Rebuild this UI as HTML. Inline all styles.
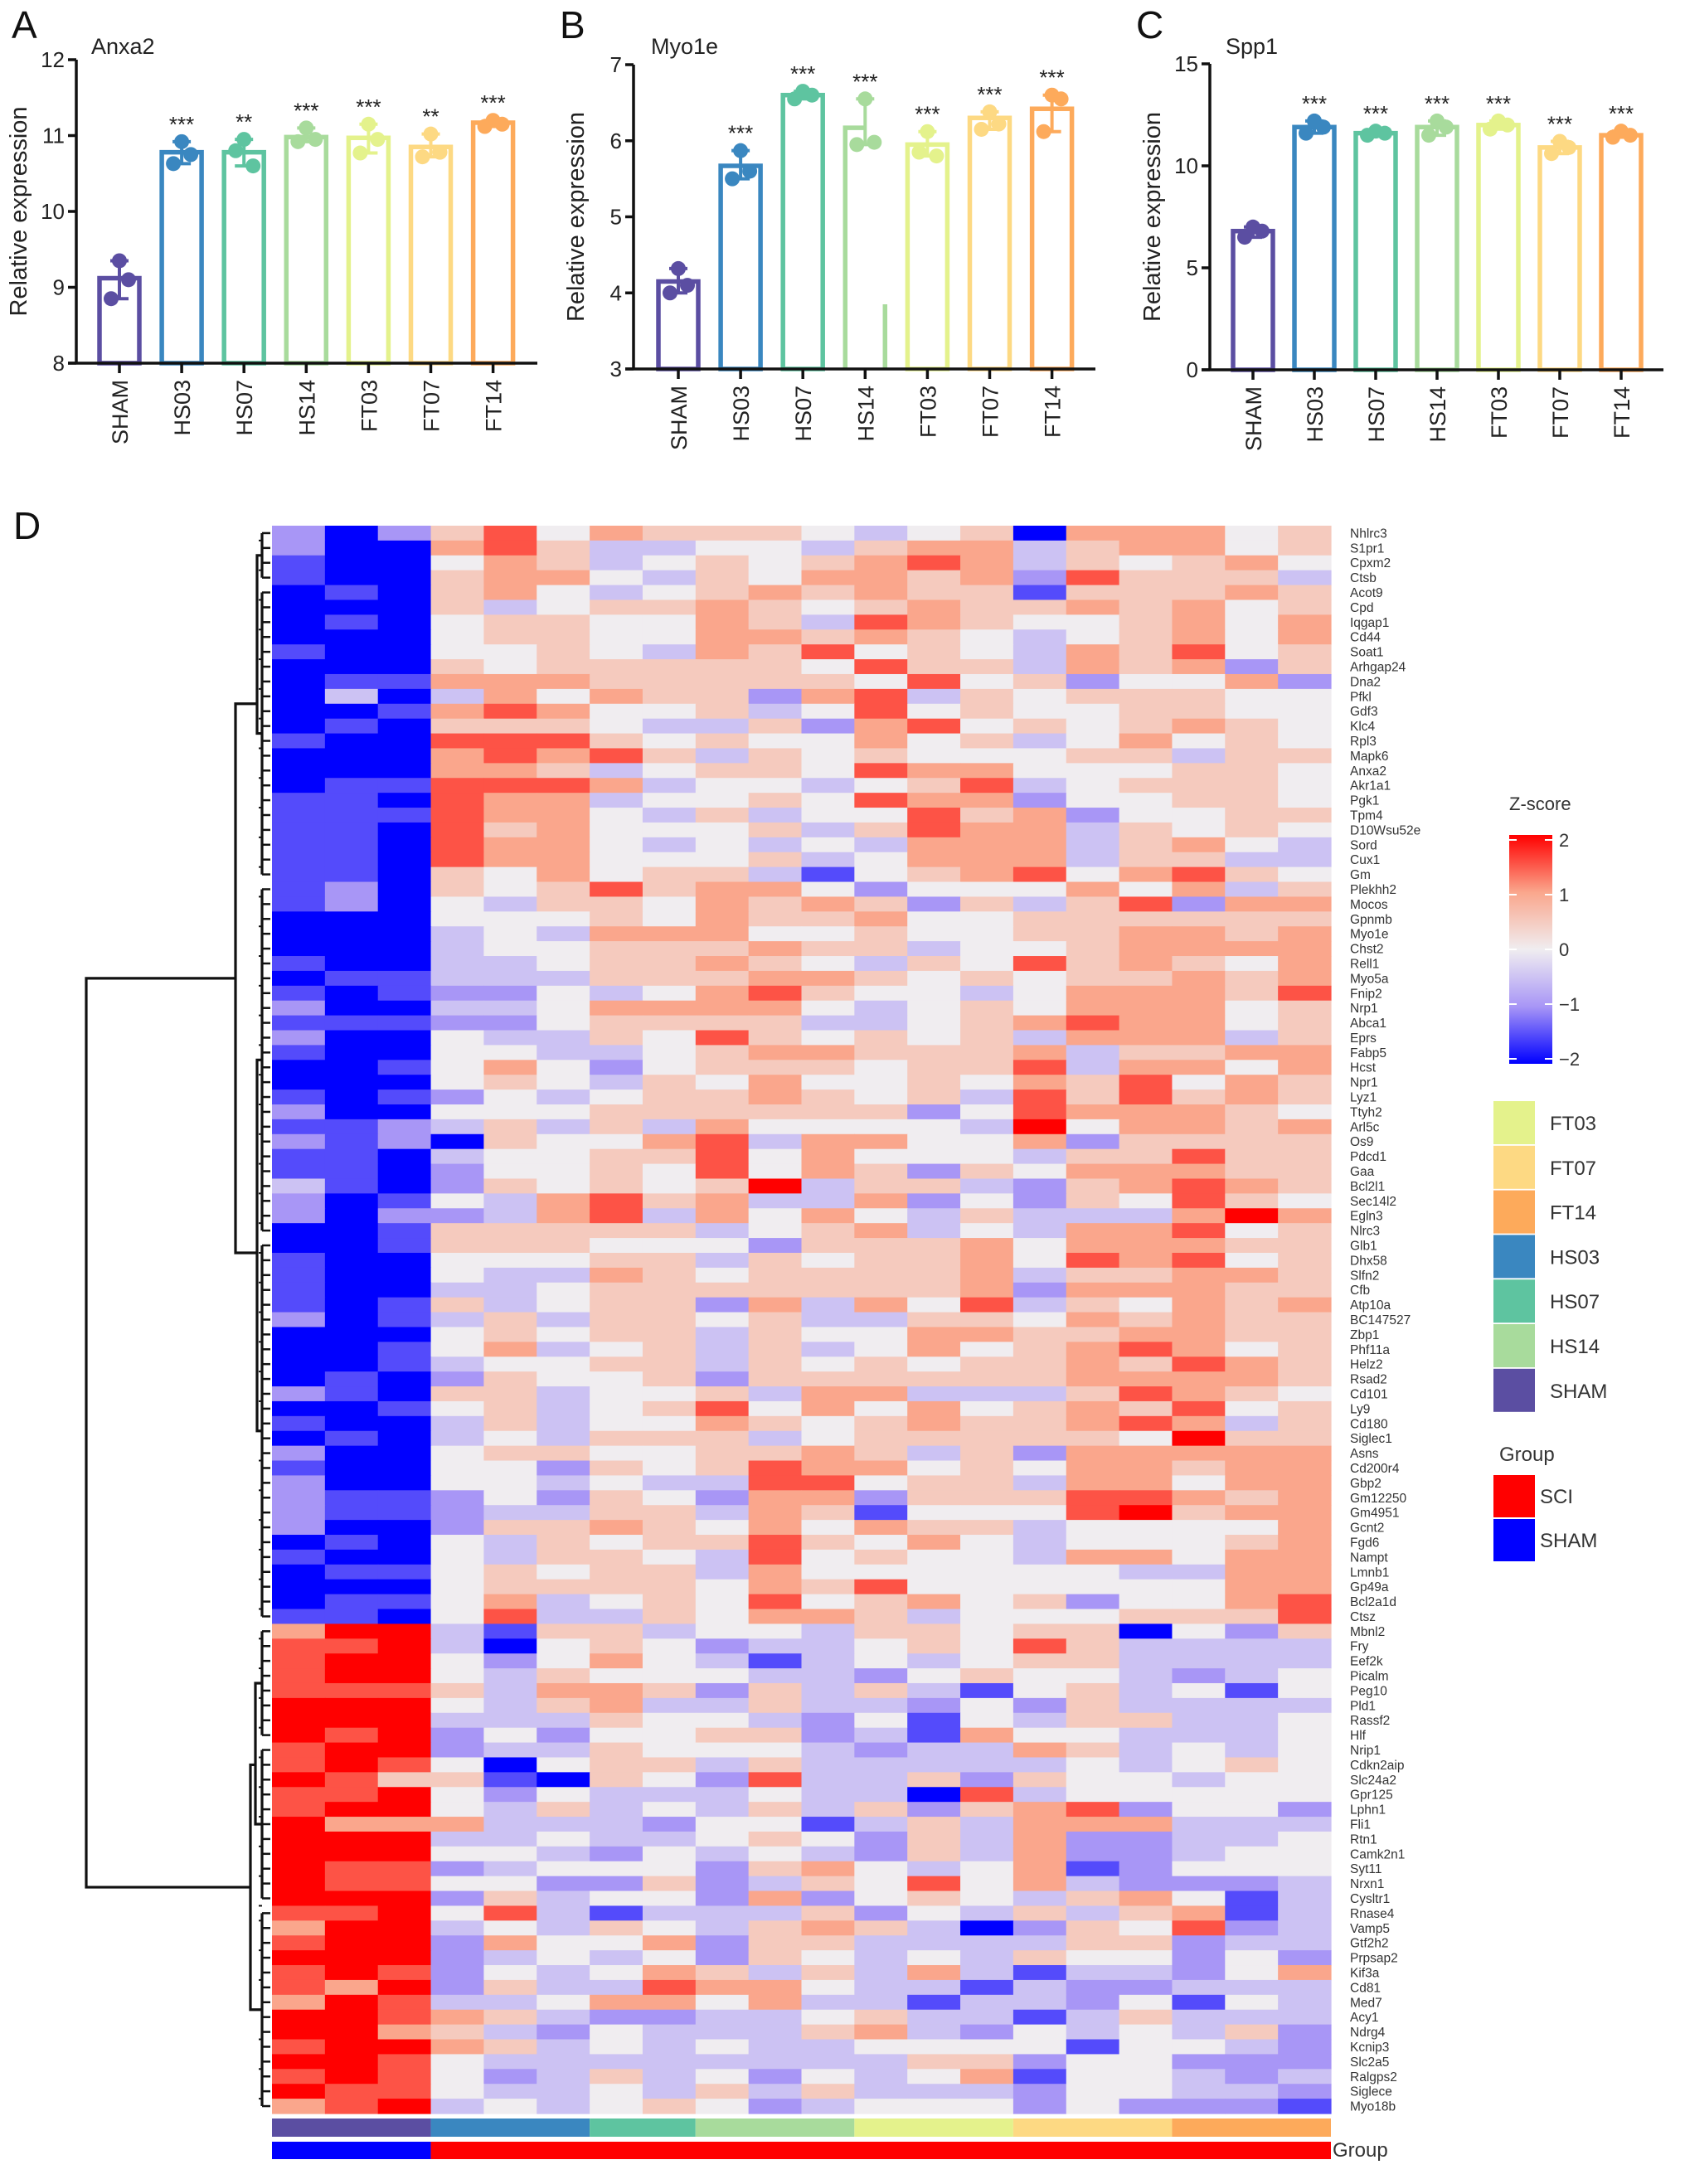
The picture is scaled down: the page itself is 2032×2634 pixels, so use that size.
<!DOCTYPE html>
<html><head><meta charset="utf-8"><style>
html,body{margin:0;padding:0;background:#fff}
svg{display:block;font-family:"Liberation Sans",Arial,sans-serif}
</style></head><body>
<svg id="fig" width="2032" height="2634" viewBox="0 0 2032 2634" xmlns="http://www.w3.org/2000/svg"></svg>
<script>
// ---------- bar chart data ----------
const groups = ["SHAM","HS03","HS07","HS14","FT03","FT07","FT14"];
const groupColors = ["#5b4ea2","#3a87c0","#5ec4a0","#a8db9c","#e4f28c","#fdd983","#fdaa5b"];
const anxa2Means = [9.12,10.78,10.78,10.98,10.97,10.85,11.17];
const anxa2Points = [[9.35,9.1,8.85],[10.92,10.75,10.63],[10.95,10.6,10.8],[11.1,10.95,10.92],[11.15,10.95,10.77],[11.02,10.78,10.72],[11.2,11.15,11.12]];
const anxa2Stars = ["","***","**","***","***","**","***"];
const myo1eMeans = [4.15,5.67,6.6,6.17,5.95,6.3,6.42];
const myo1ePoints = [[4.32,4.1,4.0],[5.87,5.6,5.5],[6.65,6.6,6.55],[6.55,5.98,5.95],[6.12,5.8,5.85],[6.38,6.22,6.15],[6.6,6.55,6.12]];
const myo1eStars = ["","***","***","***","***","***","***"];
const spp1Means = [6.8,11.9,11.6,11.9,12.0,10.9,11.5];
const spp1Points = [[7.0,6.8,6.5],[12.2,11.9,11.6],[11.7,11.6,11.5],[12.2,11.9,11.5],[12.2,12.0,11.8],[11.2,10.9,10.6],[11.7,11.5,11.4]];
const spp1Stars = ["","***","***","***","***","***","***"];

// ---------- heatmap data ----------
const genes = ["Nhlrc3","S1pr1","Cpxm2","Ctsb","Acot9","Cpd","Iqgap1","Cd44","Soat1","Arhgap24","Dna2","Pfkl","Gdf3","Klc4","Rpl3","Mapk6","Anxa2","Akr1a1","Pgk1","Tpm4","D10Wsu52e","Sord","Cux1","Gm","Plekhh2","Mocos","Gpnmb","Myo1e","Chst2","Rell1","Myo5a","Fnip2","Nrp1","Abca1","Eprs","Fabp5","Hcst","Npr1","Lyz1","Ttyh2","Arl5c","Os9","Pdcd1","Gaa","Bcl2l1","Sec14l2","Egln3","Nlrc3","Glb1","Dhx58","Slfn2","Cfb","Atp10a","BC147527","Zbp1","Phf11a","Helz2","Rsad2","Cd101","Ly9","Cd180","Siglec1","Asns","Cd200r4","Gbp2","Gm12250","Gm4951","Gcnt2","Fgd6","Nampt","Lmnb1","Gp49a","Bcl2a1d","Ctsz","Mbnl2","Fry","Eef2k","Picalm","Peg10","Pld1","Rassf2","Hlf","Nrip1","Cdkn2aip","Slc24a2","Gpr125","Lphn1","Fli1","Rtn1","Camk2n1","Syt11","Nrxn1","Cysltr1","Rnase4","Vamp5","Gtf2h2","Prpsap2","Kif3a","Cd81","Med7","Acy1","Ndrg4","Kcnip3","Slc2a5","Ralgps2","Siglece","Myo18b"];
// levels 0..8 -> z = (d-4)/2
const zLevels = [
"20257465554345066645","20067533443566356645","10046534545676354564","10056643546656275553","01056434565655155565",
"00053455654565565645","01045544653765445646","00045544665654345646","10044543657454365745","00054555554755365625",
"01166655555474524462","03036465526735455544","00167644534745445544","01055543352674545654","10077754544645346454",
"00067675354544455355","00066534554766444554","01177763443457345554","11076634454766244554","11176643534475624455",
"11075644453576635454","11076643434366635643","11076644453466635533","11054645531456746754","12054575664244464635",
"12043554656525357266","00044454655644555555","00034366644544556656","00034455565534456666","10033455654354756546",
"01133355566545455656","10122434675443466657","20033466664345466645","11122455553345676645","20043354754545366635",
"10044334566555635566","00146424555455736646","00045435464454657465","10124345565453757565","20044455555524766654",
"11235353644443846656","21205446736644625555","11034455746444355755","11024454746525466655","31025454583553256765",
"20143675633624254754","20223673646435333686","00155555345634366745","00155544425556466655","10044455354556476745",
"10043365455556355665","10033455555556266655","10153455263647354656","20135355453355465655","00045455354466556655",
"00146345353464567645","00134455354545565765","01025445255555566665","21055344536633357654","00145345746464565745",
"10035344654565567635","01034355534555554855","20045544556535266666","10044254576645466566","20044343377455366466",
"21124254266255577656","21123355365144478566","20025565464655344446","01043545575464344456","10043554374544366466",
"01145455364444443366","00045555465744444466","01146345474564524467","11047335466534445557",
"68831553443554550425","77830454233454753333","78842464313434553333","78843544433245443234",
"77753665253531453414","88843563353324253333","88833354432414355334","87824244552316443334",
"78823354443233653434","78740455353333343454","87551054273352544344","77842433343307344444",
"78843534353525672442","86663332441353666333","88833433454253622334","88844324343253622344",
"87723444256434612444","87744225235474632223","88825344262454356413","77847313335243535613",
"68834354356530254723","78826446255333355233","88823434254343544242","78724346535363133246",
"76825337664331322333","68733466463313324143","88765322334533135333","88653243335632434352",
"78865343433444414432","88743333333355244222","78742353424346144323","87743343535333244332",
"67834345423444242221"];

// ---------- helpers ----------
const svg = document.getElementById('fig');
const NS = "http://www.w3.org/2000/svg";
function mk(tag, attrs, parent){
  const e = document.createElementNS(NS, tag);
  for (const k in attrs) e.setAttribute(k, attrs[k]);
  (parent||svg).appendChild(e);
  return e;
}
function txt(s, attrs, parent){ const t = mk('text', attrs, parent); t.textContent = s; return t; }

// ---------- bar chart builder ----------
function barChart(cfg){
  const g = mk('g', {});
  
  
  const y = v => cfg.y0 + (v - cfg.vmin) / (cfg.vmax - cfg.vmin) * (cfg.y1 - cfg.y0);
  const x = i => cfg.xStart + i * cfg.step;
  // panel letter
  const L = txt(cfg.letter, {x: cfg.letterX, y: 46, 'font-size': 46, fill: '#111'}, g);
  
  
  const T = txt(cfg.title, {x: cfg.titleX, y: 65, 'font-size': 27, fill: '#222'}, g);
  
  
  // bars
  cfg.means.forEach((m, i) => {
    const top = y(m), bot = y(cfg.vmin), cx = x(i), hw = 24;
    const col = groupColors[i];
    if (cfg.broken && i === cfg.broken) {
      const p = mk('path', {d: `M${cx-hw},${bot} L${cx-hw},${top} L${cx},${top}`, fill: 'none', stroke: col, 'stroke-width': 5.5}, g);
      
      
      mk('line', {x1: cx+hw, y1: bot, x2: cx+hw, y2: y(3.85), stroke: col, 'stroke-width': 5.5}, g);
    } else {
      const r = mk('rect', {x: cx-hw, y: top, width: 2*hw, height: bot-top, fill: 'none', stroke: col, 'stroke-width': 5.5}, g);
      
      
    }
    const pts = cfg.points[i];
    const mn = Math.min(...pts), mx = Math.max(...pts);
    mk('line', {x1: cx, y1: y(mn), x2: cx, y2: y(mx), stroke: col, 'stroke-width': 4}, g);
    mk('line', {x1: cx-11, y1: y(mn), x2: cx+11, y2: y(mn), stroke: col, 'stroke-width': 4}, g);
    mk('line', {x1: cx-11, y1: y(mx), x2: cx+11, y2: y(mx), stroke: col, 'stroke-width': 4}, g);
    const offs = [0, 11, -10];
    pts.forEach((p, k) => {
      const c = mk('circle', {cx: cx + offs[k], cy: y(p), r: 9, fill: col}, g);
      
      
    });
    if (cfg.stars[i]) {
      const s = txt(cfg.stars[i], {x: cx, y: y(mx) - 12, 'font-size': 26, 'text-anchor': 'middle', fill: '#222'}, g);
      
      
    }
    // x tick + label
    mk('line', {x1: cx, y1: cfg.y0, x2: cx, y2: cfg.y0 + 12, stroke: '#111', 'stroke-width': 3.5}, g);
    const lab = txt(groups[i], {x: 0, y: 0, 'font-size': 27, 'text-anchor': 'end', fill: '#222',
      transform: `translate(${cx+10},${cfg.y0+20}) rotate(-90)`}, g);
    
    
  });
  // axes
  const ya = mk('line', {x1: cfg.ax, y1: cfg.y0 + 1.5, x2: cfg.ax, y2: cfg.y1, stroke: '#111', 'stroke-width': 3.5}, g);
  
  
  const xa = mk('line', {x1: cfg.ax - 10, y1: cfg.y0, x2: cfg.axEnd, y2: cfg.y0, stroke: '#111', 'stroke-width': 3.5}, g);
  
  
  cfg.ticks.forEach(v => {
    mk('line', {x1: cfg.ax - 10, y1: y(v), x2: cfg.ax, y2: y(v), stroke: '#111', 'stroke-width': 3.5}, g);
    const t = txt(String(v), {x: cfg.ax - 14, y: y(v) + 9, 'font-size': 26, 'text-anchor': 'end', fill: '#222'}, g);
    
    
  });
  const yt = txt('Relative expression', {x: 0, y: 0, 'font-size': 29, 'text-anchor': 'middle', fill: '#222',
    transform: `translate(${cfg.ax - 60},${(cfg.y0 + cfg.y1)/2}) rotate(-90)`}, g);
  
  
}

barChart({name:'anxa2-bar-chart', letter:'A', letterX:14, title:'Anxa2', titleX:110,
  means:anxa2Means, points:anxa2Points, stars:anxa2Stars, vmin:8, vmax:12, y0:438, y1:72,
  ticks:[8,9,10,11,12], ax:92, axEnd:648, xStart:144, step:75.1});
barChart({name:'myo1e-bar-chart', letter:'B', letterX:675, title:'Myo1e', titleX:785,
  means:myo1eMeans, points:myo1ePoints, stars:myo1eStars, vmin:3, vmax:7, y0:445, y1:78,
  ticks:[3,4,5,6,7], ax:764, axEnd:1321, xStart:818, step:75.1, broken:3});
barChart({name:'spp1-bar-chart', letter:'C', letterX:1370, title:'Spp1', titleX:1478,
  means:spp1Means, points:spp1Points, stars:spp1Stars, vmin:0, vmax:15, y0:446, y1:77,
  ticks:[0,5,10,15], ax:1459, axEnd:2006, xStart:1511, step:74});

// ---------- heatmap ----------
const HX0 = 328, HX1 = 1605, HY0 = 634, HY1 = 2549;
const nCols = 20, nRows = genes.length;
const cw = (HX1 - HX0) / nCols, rh = (HY1 - HY0) / nRows;
const stops = [[-2,[0,0,255]],[-1,[168,150,246]],[0,[240,237,240]],[1,[250,166,140]],[2,[255,0,0]]];
function zColor(z){
  z = Math.max(-2, Math.min(2, z));
  for (let i = 0; i < stops.length - 1; i++) {
    const [a, ca] = stops[i], [b, cb] = stops[i+1];
    if (z <= b) { const t = (z - a) / (b - a);
      return `rgb(${ca.map((c,k)=>Math.round(c + (cb[k]-c)*t)).join(',')})`; }
  }
  return 'rgb(255,0,0)';
}
const hm = mk('g', {});


const Dl = txt('D', {x: 16, y: 650, 'font-size': 46, fill: '#111'});


zLevels.forEach((row, r) => {
  for (let c = 0; c < nCols; c++) {
    const z = (parseInt(row[c], 10) - 4) / 2;
    const cell = mk('rect', {x: HX0 + c*cw, y: HY0 + r*rh, width: cw + 0.6, height: rh + 0.6, fill: zColor(z)}, hm);
    
    
  }
  const gl = txt(genes[r], {x: 1628, y: HY0 + r*rh + rh/2 + 5.5, 'font-size': 15.5, fill: '#333'}, hm);
  
  
});

// column annotation bars
const colGroupSizes = [3,3,2,3,3,3,3];
const ann = mk('g', {});


let cStart = 0;
colGroupSizes.forEach((n, i) => {
  const a = mk('rect', {x: HX0 + cStart*cw, y: 2555, width: n*cw, height: 22, fill: groupColors[i]}, ann);
  
  
  cStart += n;
});
const shamBar = mk('rect', {x: HX0, y: 2583, width: 3*cw, height: 21, fill: '#0000ff'}, ann);


const sciBar = mk('rect', {x: HX0 + 3*cw, y: 2583, width: 17*cw, height: 21, fill: '#ff0000'}, ann);


const gLab = txt('Group', {x: 1607, y: 2601, 'font-size': 24, fill: '#333'}, ann);



// dendrogram (simplified)
const dg = mk('g', {fill: 'none', stroke: '#111', 'stroke-width': 3.2});


const rc = r => HY0 + r*rh + rh/2;
for (let r = 0; r < nRows; r++) mk('line', {x1: 316, y1: rc(r), x2: 326, y2: rc(r), 'stroke-width': 2.5}, dg);
const clusters = [[0,23],[24,73],[74,106]];
const subs = [[0,3],[4,23],[24,47],[48,73],[74,81],[82,92],[93,106]];
subs.forEach(([a,b]) => {
  mk('line', {x1: 316, y1: rc(a), x2: 316, y2: rc(b)}, dg);
  for (let r = a; r <= b; r += 2) mk('line', {x1: 312, y1: rc(r)+rh/2, x2: 316, y2: rc(r)+rh/2, 'stroke-width': 2}, dg);
});
const clusterMid = ([a,b]) => (rc(a) + rc(b)) / 2;
mk('path', {d: `M316,${(rc(0)+rc(3))/2} H310 V${(rc(4)+rc(23))/2} H316`}, dg);
mk('path', {d: `M316,${(rc(24)+rc(47))/2} H310 V${(rc(48)+rc(73))/2} H316`}, dg);
mk('path', {d: `M310,${clusterMid([0,23])} H284 V${clusterMid([24,73])} H310`}, dg);
mk('path', {d: `M316,${(rc(74)+rc(81))/2} H308 V${(rc(82)+rc(92))/2} H316`}, dg);
mk('path', {d: `M308,${(rc(74)+rc(92))/2} H302 V${(rc(93)+rc(106))/2} H316`}, dg);
const topMid = (clusterMid([0,23]) + clusterMid([24,73])) / 2;
const botMid = ((rc(74)+rc(92))/2 + (rc(93)+rc(106))/2) / 2;
mk('path', {d: `M284,${topMid} H104 V${botMid} H302`}, dg);

// ---------- legends ----------
const lg = mk('g', {});


const defs = mk('defs', {});
const grad = mk('linearGradient', {id: 'zg', x1: 0, y1: 1, x2: 0, y2: 0}, defs);
stops.forEach(([z, c]) => mk('stop', {offset: ((z+2)/4*100) + '%', 'stop-color': `rgb(${c.join(',')})`}, grad));
txt('Z-score', {x: 1820, y: 977, 'font-size': 22, fill: '#333'}, lg);
const cb = mk('rect', {x: 1820, y: 1007, width: 52, height: 276, fill: 'url(#zg)'}, lg);


const zTicks = [2,1,0,-1,-2];
const zTickLabels = ["2","1","0","\u22121","\u22122"];
zTicks.forEach((z, i) => {
  const yy = 1013 + (2 - z) / 4 * 264;
  mk('line', {x1: 1820, y1: yy, x2: 1829, y2: yy, stroke: '#fff', 'stroke-width': 2}, lg);
  mk('line', {x1: 1863, y1: yy, x2: 1872, y2: yy, stroke: '#fff', 'stroke-width': 2}, lg);
  const t = txt(zTickLabels[i], {x: 1880, y: yy + 8, 'font-size': 22, fill: '#333'}, lg);
  
  
});
const legOrder = ["FT03","FT07","FT14","HS03","HS07","HS14","SHAM"];
const lg2 = mk('g', {});


legOrder.forEach((name, i) => {
  const yy = 1328 + i * 53.8;
  const sw = mk('rect', {x: 1801, y: yy, width: 50, height: 52, fill: groupColors[groups.indexOf(name)]}, lg2);
  
  
  const t = txt(name, {x: 1869, y: yy + 35, 'font-size': 24, fill: '#333'}, lg2);
  
  
});
const lg3 = mk('g', {});


txt('Group', {x: 1808, y: 1762, 'font-size': 24, fill: '#333'}, lg3);
[["SCI","#ff0000"],["SHAM","#0000ff"]].forEach(([n, c], i) => {
  const yy = 1779 + i * 53;
  const sw = mk('rect', {x: 1801, y: yy, width: 50, height: 51, fill: c}, lg3);
  
  
  const t = txt(n, {x: 1857, y: yy + 34, 'font-size': 24, fill: '#333'}, lg3);
  
  
});
</script>
</body></html>
